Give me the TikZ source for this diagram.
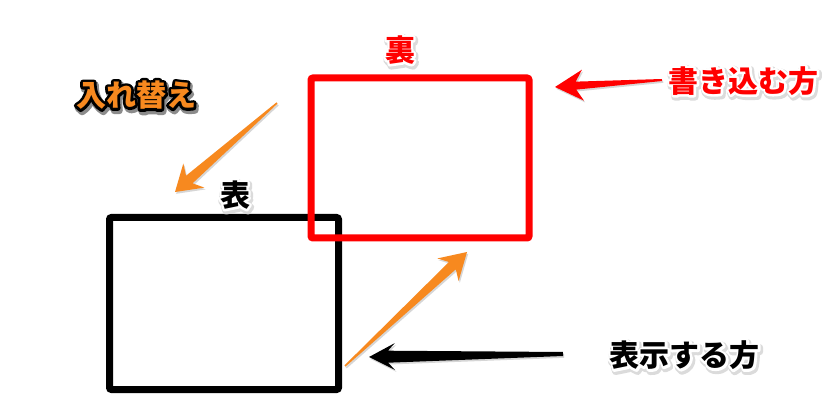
\documentclass[tikz,border=0pt]{standalone}
\usepackage{fontspec}
\newfontfamily\jpfont{Noto Sans CJK JP}
\usetikzlibrary{calc}
\definecolor{orng}{RGB}{247,137,31}
\definecolor{rred}{RGB}{255,0,0}
% glyph outline via PDF text render mode 2 (fill + stroke)
\newcommand\strokeon[2]{\special{pdf:literal direct 1 j #1 w #2 RG #2 rg 2 Tr}}
\newcommand\strokeoff{\special{pdf:literal direct 0 Tr}}
\tikzset{
  lbl/.style={inner sep=0pt, font=\jpfont\bfseries\fontsize{30}{34}\selectfont},
  frame/.style={line width=7pt, rounded corners=2pt},
}
% tapered arrow: #1 tail, #2 tip, #3 head length, #4 neck dist, #5 head half width, #6 neck half width, #7 tail half width, #8 colour
\newcommand\taperarrow[8]{%
  \coordinate (hb) at ($(#2)!#3!(#1)$);
  \coordinate (nk) at ($(#2)!#4!(#1)$);
  \begin{scope}[transform canvas={shift={(1.2,1.8)}}]
    \fill[black!16] (#2) -- ($(hb)!#5!90:(#2)$) -- ($(nk)!#6!90:(#2)$) -- ($(#1)!#7!90:(#2)$)
      -- ($(#1)!#7!-90:(#2)$) -- ($(nk)!#6!-90:(#2)$) -- ($(hb)!#5!-90:(#2)$) -- cycle;
  \end{scope}
  \fill[#8] (#2) -- ($(hb)!#5!90:(#2)$) -- ($(nk)!#6!90:(#2)$) -- ($(#1)!#7!90:(#2)$)
    -- ($(#1)!#7!-90:(#2)$) -- ($(nk)!#6!-90:(#2)$) -- ($(hb)!#5!-90:(#2)$) -- cycle;
}
% halo label: #1 name, #2 position, #3 text colour, #4 text
\newcommand\halolabel[4]{%
  \node[lbl] at ($(#2)+(1.2,1.8)$) {\strokeon{7}{0.86 0.86 0.86}#4\strokeoff};
  \node[lbl] at (#2) {\strokeon{4.5}{1 1 1}#4\strokeoff};
  \node[lbl,text=#3] (#1) at (#2) {#4};
}
\begin{document}
\begin{tikzpicture}[x=1pt,y=-1pt]
  \fill[white] (0,0) rectangle (834,419);
  \useasboundingbox (0,0) rectangle (834,419);

  % frames
  \node[draw=black, frame, minimum width=229pt, minimum height=172pt, inner sep=0pt] (front) at (224,303.5) {};
  \node[draw=rred, frame, minimum width=218pt, minimum height=160pt, inner sep=0pt] (back) at (420,158) {};

  % labels
  \halolabel{ura}{400,50}{rred}{裏}
  \halolabel{omote}{235,195}{black}{表}
  \halolabel{write}{743.5,81}{rred}{書き込む方}
  \halolabel{show}{684.7,355.5}{black}{表示する方}
  \node[lbl] at (137.5,97.5) {\strokeon{7}{0.55 0.55 0.55}入れ替え\strokeoff};
  \node[lbl] at (136,95) {\strokeon{5.5}{0 0 0}入れ替え\strokeoff};
  \node[lbl,text=orng] (swap) at (136,95) {入れ替え};

  % arrow end points
  \coordinate (o1s) at (277,103);
  \coordinate (o1t) at (175,192);
  \coordinate (rs) at (662,80);
  \coordinate (rt) at (555,87);
  \coordinate (o2s) at (345,366);
  \coordinate (o2t) at (467,252);
  \coordinate (bs) at (563,354);
  \coordinate (bt) at (369,357);

  \taperarrow{o1s}{o1t}{25pt}{19pt}{16pt}{5pt}{0.8pt}{orng}
  \taperarrow{rs}{rt}{28pt}{21pt}{15.5pt}{4pt}{1pt}{rred}
  \taperarrow{o2s}{o2t}{26pt}{20pt}{15.5pt}{5pt}{0.8pt}{orng}
  \taperarrow{bs}{bt}{26pt}{19pt}{13.5pt}{6pt}{2pt}{black}
\end{tikzpicture}
\end{document}
